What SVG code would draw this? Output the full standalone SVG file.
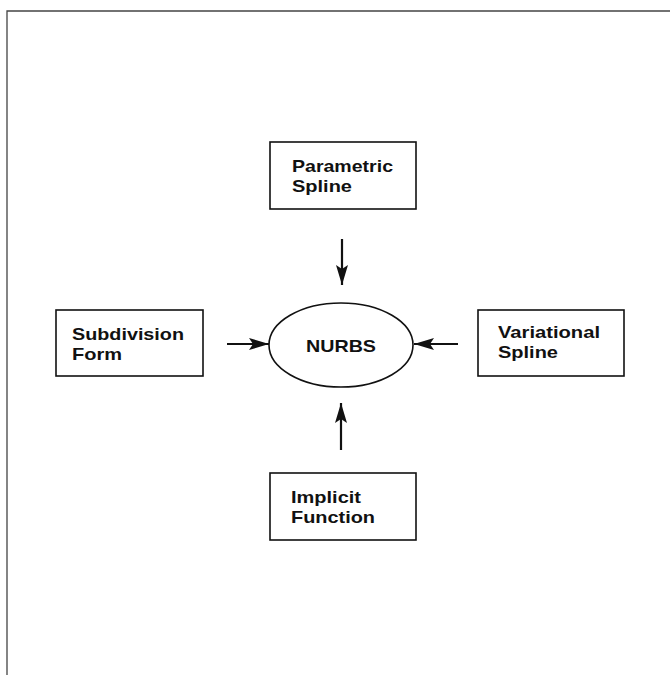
<svg xmlns="http://www.w3.org/2000/svg" width="670" height="675" viewBox="0 0 670 675">
  <style>
    .box { fill: #fff; stroke: #111; stroke-width: 1.6; }
    .lbl { font-family: "Liberation Sans", Arial, Helvetica, sans-serif; font-weight: bold; font-size: 17px; fill: #111; }
    .conn { stroke: #111; stroke-width: 2.2; fill: none; marker-end: url(#head); }
    .frame { stroke: #444; stroke-width: 1.3; fill: none; }
  </style>
  <defs>
    <marker id="head" viewBox="0 0 20 12" refX="20" refY="6" markerWidth="20" markerHeight="12" markerUnits="userSpaceOnUse" orient="auto">
      <path d="M0,0 L20,6 L0,12 L4,6 Z" fill="#111"/>
    </marker>
  </defs>
  <rect width="670" height="675" fill="#fff"/>
  <!-- page border -->
  <path class="frame" d="M7,675 L7,11 L670,11"/>

  <g id="nurbs">
    <ellipse cx="341" cy="345" rx="72" ry="42" fill="#fff" stroke="#111" stroke-width="1.6"/>
    <text class="lbl" x="306" y="352" textLength="70" lengthAdjust="spacingAndGlyphs">NURBS</text>
  </g>
  <g id="parametric-spline">
    <rect class="box" x="270" y="142" width="146" height="67"/>
    <text class="lbl" x="292" y="172" textLength="101" lengthAdjust="spacingAndGlyphs">Parametric</text>
    <text class="lbl" x="292" y="192" textLength="60" lengthAdjust="spacingAndGlyphs">Spline</text>
  </g>
  <g id="subdivision-form">
    <rect class="box" x="56" y="310" width="147" height="66"/>
    <text class="lbl" x="72" y="340" textLength="112" lengthAdjust="spacingAndGlyphs">Subdivision</text>
    <text class="lbl" x="72" y="360" textLength="50" lengthAdjust="spacingAndGlyphs">Form</text>
  </g>
  <g id="variational-spline">
    <rect class="box" x="478" y="310" width="146" height="66"/>
    <text class="lbl" x="498" y="338" textLength="102" lengthAdjust="spacingAndGlyphs">Variational</text>
    <text class="lbl" x="498" y="358" textLength="60" lengthAdjust="spacingAndGlyphs">Spline</text>
  </g>
  <g id="implicit-function">
    <rect class="box" x="270" y="473" width="146" height="67"/>
    <text class="lbl" x="291" y="503" textLength="70" lengthAdjust="spacingAndGlyphs">Implicit</text>
    <text class="lbl" x="291" y="523" textLength="84" lengthAdjust="spacingAndGlyphs">Function</text>
  </g>

  <g id="connectors">
    <line class="conn" x1="342" y1="239" x2="342" y2="285"/>
    <line class="conn" x1="341" y1="450" x2="341" y2="403"/>
    <line class="conn" x1="227" y1="344" x2="269" y2="344"/>
    <line class="conn" x1="458" y1="344" x2="414" y2="344"/>
  </g>
</svg>
